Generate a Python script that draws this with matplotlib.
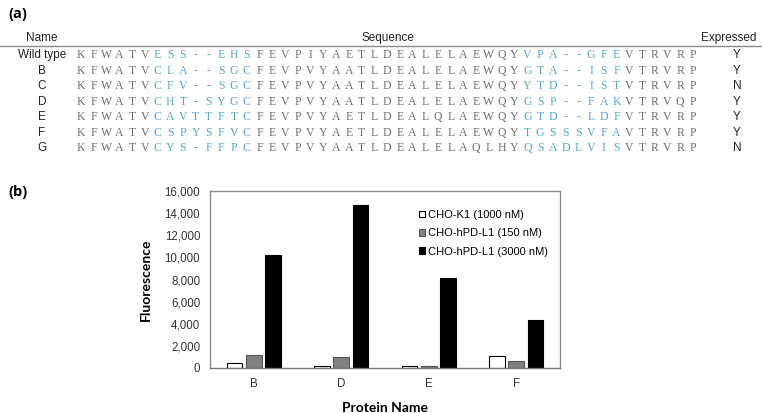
import matplotlib.pyplot as plt
import numpy as np

# ---- panel (a) data ----
names = ['Wild type', 'B', 'C', 'D', 'E', 'F', 'G']
seq_start = ['KFWATV'] * 7
loop1 = ['ESS--EHS', 'CLA--SGC', 'CFV--SGC', 'CHT-SYGC', 'CAVTTFTC', 'CSPYSFVC', 'CYS-FFPC']
middle = ['FEVPIYAETLDEALELAEWQY', 'FEVPVYAATLDEALELAEWQY', 'FEVPVYAATLDEALELAEWQY',
          'FEVPVYAATLDEALELAEWQY', 'FEVPVYAETLDEALQLAEWQY', 'FEVPVYAETLDEALELAEWQY',
          'FEVPVYAATLDEALELAQLHY']
loop2 = ['VPA--GFE', 'GTA--ISF', 'YTD--IST', 'GSP--FAK', 'GTD--LDF', 'TGSSSVFA', 'QSADLVIS']
seq_end = ['VTRVRP', 'VTRVRP', 'VTRVRP', 'VTRVQP', 'VTRVRP', 'VTRVRP', 'VTRVRP']
expressed = ['Y', 'Y', 'N', 'Y', 'Y', 'Y', 'N']

# ---- panel (b) data ----
proteins = ['B', 'D', 'E', 'F']
cho_k1 = [450, 200, 150, 1100]
pdl1_150 = [1150, 1020, 180, 640]
pdl1_3000 = [10200, 14750, 8150, 4350]
series_labels = ['CHO-K1 (1000 nM)', 'CHO-hPD-L1 (150 nM)', 'CHO-hPD-L1 (3000 nM)']

W, H = 762, 413
fig = plt.figure(figsize=(W / 100, H / 100), dpi=100)

def fx(px):
    return px / W

def fy(py):
    return 1 - py / H

gray_txt = '#6e6e6e'
blue_txt = '#5aa2d2'
sans = 'Liberation Sans'

# panel (a)
fig.text(fx(8), fy(14), '(a)', fontsize=10.5, fontweight='bold', family='Open Sans', va='center')
fig.text(fx(42), fy(38), 'Name', fontsize=8.5, family=sans, ha='center', va='center', color='#222')
fig.text(fx(388), fy(38), 'Sequence', fontsize=8.5, family=sans, ha='center', va='center', color='#222')
fig.text(fx(729), fy(38), 'Expressed', fontsize=8.5, family=sans, ha='center', va='center', color='#222')
fig.add_artist(plt.Line2D([0, 1], [fy(46), fy(46)], color='#8a8a8a', lw=1.0))

row_y = [55, 71, 86, 102, 117, 133, 148]
x0, dx = 81, 12.75
for i in range(len(names)):
    y = fy(row_y[i])
    fig.text(fx(42), y, names[i], fontsize=8.5, family=sans, ha='center', va='center', color='#222')
    parts = [(seq_start[i], gray_txt), (loop1[i], blue_txt), (middle[i], gray_txt),
             (loop2[i], blue_txt), (seq_end[i], gray_txt)]
    k = 0
    for s, c in parts:
        for ch in s:
            fig.text(fx(x0 + k * dx), y, ch, fontsize=8.5, family='Liberation Serif',
                     ha='center', va='center', color=c)
            k += 1
    fig.text(fx(737), y, expressed[i], fontsize=8.5, family=sans, ha='center', va='center', color='#222')

# panel (b)
fig.text(fx(8), fy(192), '(b)', fontsize=10.5, fontweight='bold', family='Open Sans', va='center')
ax = fig.add_axes([fx(210), fy(368), fx(560) - fx(210), fy(191) - fy(368)])
x = np.arange(len(proteins))
w = 0.18
ax.bar(x - 0.22, cho_k1, w, color='white', edgecolor='black', linewidth=0.8, label=series_labels[0])
ax.bar(x, pdl1_150, w, color='#808080', edgecolor='#555555', linewidth=0.8, label=series_labels[1])
ax.bar(x + 0.22, pdl1_3000, w, color='black', edgecolor='black', linewidth=0.8, label=series_labels[2])
ax.set_xlim(-0.5, 3.5)
ax.set_ylim(0, 16000)
ax.set_yticks(np.arange(0, 16001, 2000))
ax.set_yticklabels([f'{v:,}' for v in range(0, 16001, 2000)])
ax.set_xticks(x)
ax.set_xticklabels(proteins)
ax.tick_params(length=0, labelsize=8.3, colors='#333333', pad=7)
for lab in ax.get_xticklabels() + ax.get_yticklabels():
    lab.set_family(sans)
for sp in ax.spines.values():
    sp.set_color('#8c8c8c')
    sp.set_linewidth(1.0)
ax.spines['bottom'].set_color('#777777')
ax.set_ylabel('Fluorescence', fontsize=10, fontweight='bold', family='Lato', labelpad=9)
ax.set_xlabel('Protein Name', fontsize=10, fontweight='bold', family='Lato', labelpad=9)
ax.legend(loc='upper left', bbox_to_anchor=(fx(409), fy(200)), bbox_transform=fig.transFigure,
          frameon=False, prop={'family': sans, 'size': 8},
          handlelength=0.55, handleheight=0.55, handletextpad=0.25, labelspacing=0.75)

fig.savefig('out.png', dpi=100)
